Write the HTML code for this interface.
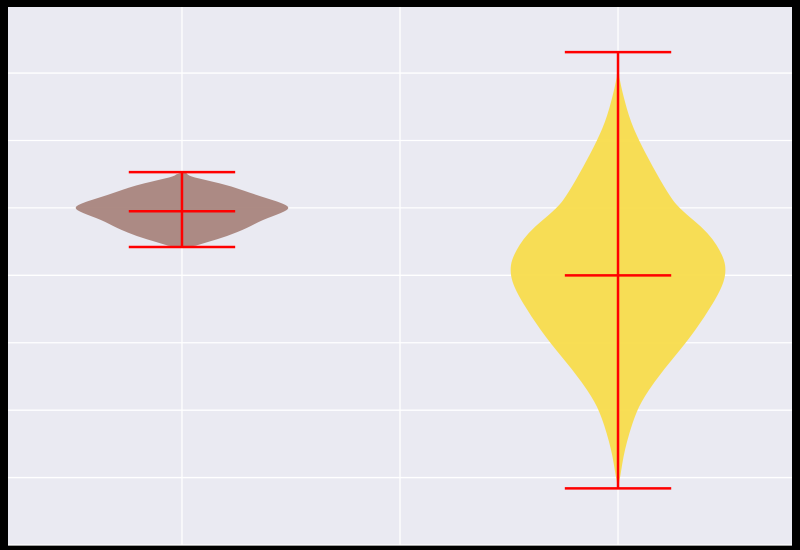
<!DOCTYPE html>
<html><head><meta charset="utf-8"><style>
html,body{margin:0;padding:0;background:#000;}
svg{display:block;}
</style></head><body>
<svg id="chart" width="800" height="550">
<rect x="0" y="0" width="800" height="550" fill="#000"/>
<rect x="8" y="7" width="784" height="538" fill="#eaeaf2"/>
<g id="grid"></g>
<g id="violins"></g>
</svg>
<script>
const positions = [1, 2];
const colors = ["#a9857d", "#f8dc4c"];
const densityY1 = [5.53,5.47,5.41,5.32,5.19,5.07,5.0,4.93,4.82,4.70,4.58,4.49,4.42];
const densityW1 = [0.03,0.07,0.23,0.46,0.69,0.93,1,0.93,0.74,0.6,0.42,0.23,0.09];
const densityY2 = [7.31,7.05,6.85,6.35,6.01,5.61,5.22,5.0,4.63,4.27,4.03,3.78,3.38,3.0,2.6,2.2,1.9,1.41,1.01,0.84];
const densityW2 = [0.0,0.005,0.02,0.10,0.19,0.32,0.46,0.56,0.84,0.98,1,0.95,0.8,0.63,0.42,0.24,0.15,0.06,0.02,0.0];
const mins = [4.42, 0.84];
const maxs = [5.53, 7.31];
const means = [4.95, 4.0];
const yTicks = [0,1,2,3,4,5,6,7];
const xTicks = [1, 1.5, 2];

const X0=8, X1=792, Y0=7, Y1=545;
const xMin=0.601, xMax=2.399, yMin=0, yMax=7.98;
const xs = v => X0 + (v-xMin)/(xMax-xMin)*(X1-X0);
const ys = v => Y1 - (v-yMin)/(yMax-yMin)*(Y1-Y0);
const NS="http://www.w3.org/2000/svg";
const grid=document.getElementById('grid');
const vg=document.getElementById('violins');
function line(p,x1,y1,x2,y2,stroke,w){const l=document.createElementNS(NS,'line');l.setAttribute('x1',x1);l.setAttribute('y1',y1);l.setAttribute('x2',x2);l.setAttribute('y2',y2);l.setAttribute('stroke',stroke);l.setAttribute('stroke-width',w);p.appendChild(l);return l;}
yTicks.forEach(t=>{const l=line(grid,X0,ys(t),X1,ys(t),'#fff',1.3);

});
xTicks.forEach(t=>{const l=line(grid,xs(t),Y0,xs(t),Y1,'#fff',1.3);

});
const halfW = 0.248, capW = 0.122;
const dens=[[densityY1,densityW1],[densityY2,densityW2]];
positions.forEach((p,i)=>{
  const [dy,dw]=dens[i];
  let pts=[];
  for(let k=0;k<dy.length;k++) pts.push([xs(p+dw[k]*halfW),ys(dy[k])]);
  for(let k=dy.length-1;k>=0;k--) pts.push([xs(p-dw[k]*halfW),ys(dy[k])]);
  let d='M'+pts[0][0]+','+pts[0][1];
  for(let k=1;k<pts.length;k++){
    const a=pts[k-1],b=pts[k];const my=(a[1]+b[1])/2;
    d+=' Q'+a[0]+','+a[1]+' '+((a[0]+b[0])/2)+','+my;
  }
  d+=' Z';
  const path=document.createElementNS(NS,'path');
  path.setAttribute('d',d);path.setAttribute('fill',colors[i]);path.setAttribute('fill-opacity','0.95');
  
  
  vg.appendChild(path);
  const c='#ff0000';
  let l=line(vg,xs(p),ys(maxs[i]),xs(p),ys(mins[i]),c,2.5);
  
  
  l=line(vg,xs(p-capW),ys(maxs[i]),xs(p+capW),ys(maxs[i]),c,2.5);
  
  
  l=line(vg,xs(p-capW),ys(mins[i]),xs(p+capW),ys(mins[i]),c,2.5);
  
  
  l=line(vg,xs(p-capW),ys(means[i]),xs(p+capW),ys(means[i]),c,2.5);
  
  
});
</script>
</body></html>
